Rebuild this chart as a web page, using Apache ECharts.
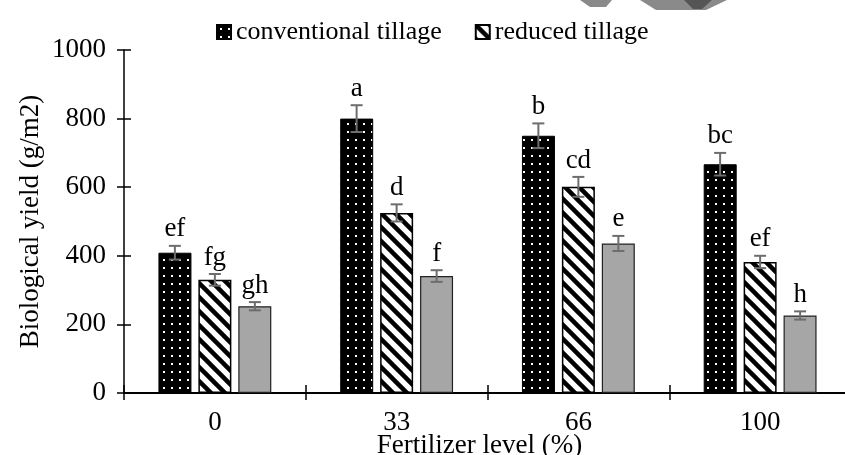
<!DOCTYPE html>
<html lang="en">
<head>
    <meta charset="UTF-8">
    <title>Biological yield</title>
    <style>
        html, body { margin: 0; padding: 0; background: #fff; }
        #chart { width: 845px; height: 455px; }
    </style>
</head>
<body>
    <div id="chart"></div>
    <script src="https://cdn.jsdelivr.net/npm/echarts@6/dist/echarts.min.js"></script>
    <script type="text/javascript">
    // data
    var categories = ['0', '33', '66', '100'];
    var yTicks = [0, 200, 400, 600, 800, 1000];

    var conventional = [409, 800, 750, 667];
    var reduced = [330, 525, 601, 382];
    var third = [253, 341, 436, 226];

    var conventionalErr = [20, 39, 36, 33];
    var reducedErr = [17, 25, 29, 18];
    var thirdErr = [12, 17, 22, 12];

    var conventionalLetters = ['ef', 'a', 'b', 'bc'];
    var reducedLetters = ['fg', 'd', 'cd', 'ef'];
    var thirdLetters = ['gh', 'f', 'e', 'h'];

    var FONT = '"Liberation Serif", "Times New Roman", serif';
    var FS = 27;
    var BAR_W = 33;
    var BAR_STEP = 40; // bar width + gap

    // 黑底白点
    function dotPattern() {
        var c = document.createElement('canvas');
        c.width = 8; c.height = 8;
        var ctx = c.getContext('2d');
        ctx.fillStyle = '#000';
        ctx.fillRect(0, 0, 8, 8);
        ctx.fillStyle = '#fff';
        ctx.fillRect(3, 3, 2, 2);
        return c;
    }
    // 斜线
    function hatchPattern() {
        var s = 14;
        var c = document.createElement('canvas');
        c.width = s; c.height = s;
        var ctx = c.getContext('2d');
        ctx.fillStyle = '#fff';
        ctx.fillRect(0, 0, s, s);
        ctx.strokeStyle = '#000';
        ctx.lineWidth = 4.5;
        for (var k = -1; k <= 1; k++) {
            ctx.beginPath();
            ctx.moveTo(-2, -2 + k * s);
            ctx.lineTo(s + 2, s + 2 + k * s);
            ctx.stroke();
        }
        return c;
    }

    var myChart = echarts.init(document.getElementById('chart'));

    function errSeries(values, errs, letters, slot) {
        var data = [];
        for (var i = 0; i < values.length; i++) {
            data.push([i, values[i], errs[i]]);
        }
        return {
            type: 'custom',
            xAxisIndex: 0,
            yAxisIndex: 0,
            z: 10,
            silent: true,
            clip: false,
            data: data,
            encode: { x: 0, y: 1 },
            renderItem: function(params, api) {
                var idx = api.value(0);
                var v = api.value(1);
                var e = api.value(2);
                var top = api.coord([idx, v + e]);
                var bot = api.coord([idx, v - e]);
                var x = top[0] + (slot - 1) * BAR_STEP;
                var stroke = { stroke: '#6d6d6d', lineWidth: 2 };
                return {
                    type: 'group',
                    children: [
                        { type: 'line', shape: { x1: x, y1: top[1], x2: x, y2: bot[1] }, style: stroke },
                        { type: 'line', shape: { x1: x - 6, y1: top[1], x2: x + 6, y2: top[1] }, style: stroke },
                        { type: 'line', shape: { x1: x - 6, y1: bot[1], x2: x + 6, y2: bot[1] }, style: stroke },
                        {
                            type: 'text',
                            style: {
                                text: letters[params.dataIndex],
                                x: x,
                                y: top[1] - 3,
                                align: 'center',
                                verticalAlign: 'bottom',
                                fontSize: FS,
                                fontFamily: FONT,
                                fill: '#000'
                            }
                        }
                    ]
                };
            }
        };
    }

    var option = {
        animation: false,
        backgroundColor: '#fff',
        textStyle: { fontFamily: FONT },
        legend: {
            data: ['conventional tillage', 'reduced tillage'],
            left: 211,
            top: 14,
            itemWidth: 14,
            itemHeight: 14,
            itemGap: 33,
            icon: 'rect',
            textStyle: { fontSize: 26, fontFamily: FONT, color: '#000' }
        },
        grid: { left: 124, top: 50, width: 727, height: 343, outerBoundsMode: 'none' },
        xAxis: [{
            type: 'category',
            data: categories,
            position: 'bottom',
            name: 'Fertilizer level (%)',
            nameLocation: 'middle',
            nameGap: 39,
            nameMoveOverlap: false,
            nameTextStyle: { fontSize: FS, fontFamily: FONT, color: '#000', padding: [0, 16, 0, 0] },
            axisLine: { lineStyle: { color: '#000', width: 2 } },
            axisTick: { show: true, length: 7, lineStyle: { color: '#000', width: 1.5 } },
            axisLabel: { fontSize: FS, fontFamily: FONT, color: '#000', margin: 16 }
        }, {
            type: 'category',
            data: categories,
            position: 'bottom',
            axisLine: { show: false },
            axisTick: { show: true, inside: true, length: 8, lineStyle: { color: '#000', width: 1.5 } },
            axisLabel: { show: false }
        }],
        yAxis: [{
            type: 'value',
            min: yTicks[0],
            max: yTicks[yTicks.length - 1],
            interval: yTicks[1] - yTicks[0],
            name: 'Biological yield (g/m2)',
            nameLocation: 'middle',
            nameGap: 80,
            nameMoveOverlap: false,
            nameTextStyle: { fontSize: FS, fontFamily: FONT, color: '#000' },
            splitLine: { show: false },
            axisLine: { show: true, lineStyle: { color: '#000', width: 1.5 } },
            axisTick: { show: true, length: 7, lineStyle: { color: '#000', width: 1.5 } },
            axisLabel: {
                fontSize: FS, fontFamily: FONT, color: '#000', margin: 18,
                formatter: function(v) { return String(v); }
            }
        }, {
            type: 'value',
            min: yTicks[0],
            max: yTicks[yTicks.length - 1],
            interval: yTicks[1] - yTicks[0],
            position: 'left',
            splitLine: { show: false },
            axisLine: { show: false },
            axisTick: { show: true, inside: true, length: 7, lineStyle: { color: '#000', width: 1.5 } },
            axisLabel: { show: false }
        }],
        graphic: [
            // 右上角水印残片
            { type: 'polygon', shape: { points: [[580, 0], [612, 0], [606, 7], [590, 7]] }, style: { fill: '#8a8a8a' } },
            { type: 'polygon', shape: { points: [[640, 0], [727, 0], [706, 10], [656, 10]] }, style: { fill: '#8a8a8a' } },
            { type: 'polygon', shape: { points: [[684, 0], [712, 0], [702, 9], [693, 9]] }, style: { fill: '#555' } }
        ],
        series: [{
            name: 'conventional tillage',
            type: 'bar',
            barWidth: BAR_W,
            barGap: '21%',
            data: conventional,
            itemStyle: { color: { image: dotPattern(), repeat: 'repeat' }, borderColor: '#000', borderWidth: 1 }
        }, {
            name: 'reduced tillage',
            type: 'bar',
            barWidth: BAR_W,
            barGap: '21%',
            data: reduced,
            itemStyle: { color: { image: hatchPattern(), repeat: 'repeat' }, borderColor: '#000', borderWidth: 1.5 }
        }, {
            name: 'no tillage',
            type: 'bar',
            barWidth: BAR_W,
            barGap: '21%',
            data: third,
            itemStyle: { color: '#a6a6a6', borderColor: '#222', borderWidth: 1.2 }
        },
            errSeries(conventional, conventionalErr, conventionalLetters, 0),
            errSeries(reduced, reducedErr, reducedLetters, 1),
            errSeries(third, thirdErr, thirdLetters, 2)
        ]
    };

    myChart.setOption(option);
    </script>
</body>
</html>
